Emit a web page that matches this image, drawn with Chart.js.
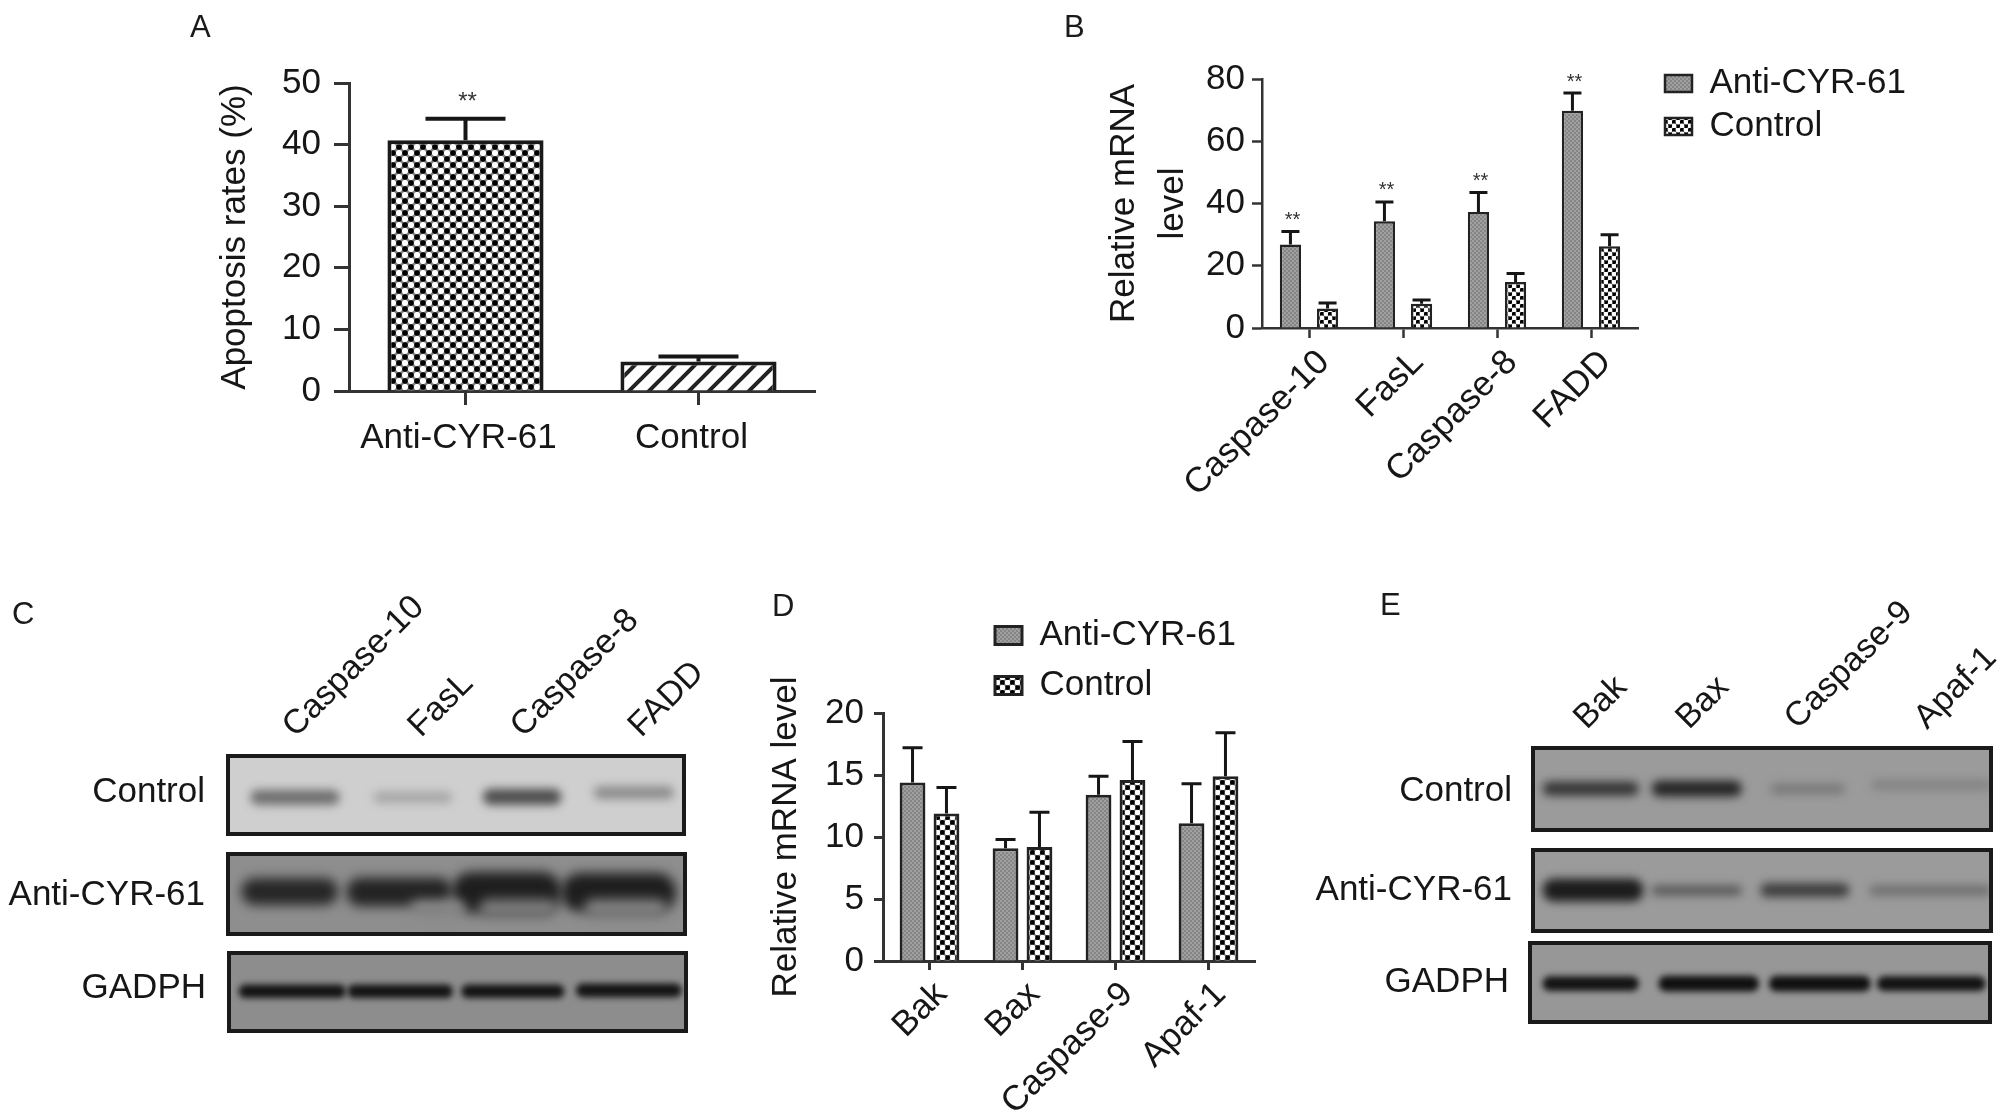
<!DOCTYPE html>
<html>
<head>
<meta charset="utf-8">
<title>Panels A-E</title>
<script src="https://cdn.jsdelivr.net/npm/chart.js@4"></script>
<style>
html, body { margin: 0; padding: 0; background: #fff; }
#page { position: relative; width: 2008px; height: 1120px; overflow: hidden; filter: blur(0.6px); }
canvas { position: absolute; left: 0; top: 0; }
.tag { position: absolute; font: 31px "Liberation Sans", Arial, sans-serif; color: #1a1a1a; }
</style>
</head>
<body>
<div id="page">
    <div class="tag" style="left:190px;top:9px">A</div>
    <div class="tag" style="left:1064px;top:9px">B</div>
    <div class="tag" style="left:12px;top:596px">C</div>
    <div class="tag" style="left:772px;top:588px">D</div>
    <div class="tag" style="left:1380px;top:587px">E</div>
</div>
<script>
// panel A
var aLabels = ["Anti-CYR-61", "Control"];
var aValues = [40.7, 4.8];
var aTops = [44.2, 5.6];
var aStars = ["**", ""];

// panel B
var bLabels = ["Caspase-10", "FasL", "Caspase-8", "FADD"];
var bAnti = [26.8, 34.3, 37.3, 69.8];
var bAntiTops = [31, 40.5, 43.5, 75.5];
var bControl = [6.3, 7.8, 14.8, 26.3];
var bControlTops = [8, 9, 17.5, 30];
var bStars = ["**", "**", "**", "**"];

// panel D
var dLabels = ["Bak", "Bax", "Caspase-9", "Apaf-1"];
var dAnti = [14.4, 9.1, 13.4, 11.1];
var dAntiTops = [17.2, 9.8, 14.9, 14.3];
var dControl = [11.9, 9.2, 14.6, 14.9];
var dControlTops = [14, 12, 17.7, 18.4];

// blots, band extents read as % of the strip width, height as % of the strip
var cLanes = ["Caspase-10", "FasL", "Caspase-8", "FADD"];
var cLaneTicks = [19.7, 47.2, 69.7, 95.5];
var eLanes = ["Bak", "Bax", "Caspase-9", "Apaf-1"];
var eLaneTicks = [16.6, 38.9, 62.6, 90.9];

var c1From = [5, 32, 56, 80.3];
var c1To = [24.4, 49, 73, 97.7];
var c1Level = [44, 44, 45, 56];
var c1Grey = ["#6e6e6e", "#a4a4a4", "#4c4c4c", "#8c8c8c"];

var c2From = [40, 55, 78, 3, 26, 49, 73];
var c2To = [52, 72, 96, 24, 49, 73, 98];
var c2Level = [14, 14, 14, 56, 55, 54, 54];
var c2Grey = ["#868686", "#7a7a7a", "#808080", "#262626", "#232323", "#1e1e1e", "#1e1e1e"];

var c3From = [2.2, 26, 50.9, 76];
var c3To = [25.5, 48.9, 73.3, 99];
var c3Level = [52, 52, 52, 54];
var c3Grey = ["#141414", "#141414", "#141414", "#141414"];

var e1From = [2.2, 26, 52, 74];
var e1To = [23, 45.5, 68, 100];
var e1Level = [51, 51, 50, 60];
var e1Grey = ["#333333", "#242424", "#767676", "#828282"];

var e2From = [2.2, 26, 49.7, 73.5];
var e2To = [24, 45.5, 69, 100];
var e2Level = [51, 50, 51, 50];
var e2Grey = ["#1c1c1c", "#555555", "#3c3c3c", "#6c6c6c"];

var e3From = [2.8, 28, 52, 75.5];
var e3To = [23.6, 49.7, 74, 99];
var e3Level = [47, 47, 47, 47];
var e3Grey = ["#141414", "#101010", "#101010", "#121212"];

var INK = "#161616";
var FONT = { family: '"Liberation Sans", Arial, sans-serif', size: 35 };

function tile(size, paint) {
    var c = document.createElement("canvas");
    c.width = c.height = size;
    var g = c.getContext("2d");
    paint(g, size);
    return g.createPattern(c, "repeat");
}

function dots(period, radius) {
    return tile(period, function (g, s) {
        g.fillStyle = "#7a7a7a";
        g.fillRect(0, 0, s, s);
        var q = s / 4;
        g.fillStyle = "#000";
        g.beginPath(); g.arc(q, q, radius, 0, 7); g.arc(3 * q, 3 * q, radius, 0, 7); g.fill();
        g.fillStyle = "#fff";
        g.beginPath(); g.arc(3 * q, q, radius + 0.3, 0, 7); g.arc(q, 3 * q, radius + 0.3, 0, 7); g.fill();
    });
}

var dotsA = dots(12, 2.8);
var dotsB = dots(8, 2.1);
var dotsD = dots(10, 2.5);

var hatch = tile(20, function (g, s) {
    g.fillStyle = "#fff";
    g.fillRect(0, 0, s, s);
    g.strokeStyle = "#222";
    g.lineWidth = 4;
    [[-s, s, s, -s], [0, s, s, 0], [0, 2 * s, 2 * s, 0]].forEach(function (p) {
        g.beginPath(); g.moveTo(p[0], p[1]); g.lineTo(p[2], p[3]); g.stroke();
    });
});

var fineGrey = tile(4, function (g, s) {
    g.fillStyle = "#858585";
    g.fillRect(0, 0, s, s);
    g.fillStyle = "#a0a0a0";
    g.fillRect(0, 0, 2, 2);
    g.fillRect(2, 2, 2, 2);
});

// error bars and the ** marks, placed through the bar elements and the y scale
var errorBars = {
    id: "errorBars",
    afterDatasetsDraw: function (chart) {
        var ctx = chart.ctx;
        var y = chart.scales.y;
        chart.data.datasets.forEach(function (ds, i) {
            var meta = chart.getDatasetMeta(i);
            ds.tops.forEach(function (top, k) {
                var bar = meta.data[k];
                var py = y.getPixelForValue(top);
                ctx.save();
                ctx.strokeStyle = INK;
                ctx.lineWidth = ds.errWidth;
                ctx.beginPath();
                ctx.moveTo(bar.x, bar.y);
                ctx.lineTo(bar.x, py);
                ctx.moveTo(bar.x - ds.cap, py);
                ctx.lineTo(bar.x + ds.cap, py);
                ctx.stroke();
                if (ds.stars && ds.stars[k]) {
                    ctx.fillStyle = "#333";
                    ctx.font = ds.starSize + 'px "Liberation Sans", Arial, sans-serif';
                    ctx.textAlign = "center";
                    ctx.textBaseline = "middle";
                    ctx.fillText(ds.stars[k], bar.x + 2, py - ds.starGap);
                }
                ctx.restore();
            });
        });
    }
};

// moves the legend off the plot area, to the page position the panel wants
var legendSpot = {
    id: "legendSpot",
    afterLayout: function (chart) {
        var spot = chart.options.plugins.legendSpot;
        if (!spot || spot.left === undefined) return;
        var lg = chart.legend;
        var w = lg.width, h = lg.height;
        lg.left = spot.left;
        lg.top = spot.top;
        lg.right = spot.left + w;
        lg.bottom = spot.top + h;
    }
};

function addCanvas() {
    var c = document.createElement("canvas");
    c.width = 2008;
    c.height = 1120;
    document.getElementById("page").appendChild(c);
    return c.getContext("2d");
}

function fixed(prop, size) {
    return function (scale) {
        scale[prop] = size;
        // rotated labels may hang past the plot, do not let that shrink it
        if (prop === "height") { scale.paddingLeft = 0; scale.paddingRight = 0; }
    };
}

function barPanel(o) {
    new Chart(addCanvas(), {
        type: "bar",
        data: { labels: o.labels, datasets: o.datasets },
        plugins: [errorBars, legendSpot],
        options: {
            responsive: false,
            animation: false,
            categoryPercentage: o.catPct,
            barPercentage: o.barPct,
            layout: {
                padding: {
                    left: o.box[0] - o.yWidth,
                    top: o.box[1],
                    right: 2008 - o.box[2],
                    bottom: 1120 - o.box[3] - o.xHeight
                }
            },
            plugins: {
                tooltip: { enabled: false },
                legend: o.legend ? {
                    display: true,
                    position: "chartArea",
                    align: "start",
                    labels: { font: FONT, color: INK, boxWidth: o.legend.boxW, boxHeight: o.legend.boxH, padding: o.legend.pad }
                } : { display: false },
                legendSpot: o.legend ? { left: o.legend.left, top: o.legend.top } : {}
            },
            scales: {
                x: {
                    afterFit: fixed("height", o.xHeight),
                    grid: { display: true, offset: false, drawOnChartArea: false, color: "#333", tickLength: o.xTick, tickWidth: o.axisWidth },
                    border: { color: "#333", width: o.axisWidth },
                    ticks: {
                        font: FONT, color: INK, padding: o.xPad,
                        minRotation: o.rot, maxRotation: o.rot, autoSkip: false,
                        labelOffset: o.labelShift
                    }
                },
                y: {
                    min: 0,
                    max: o.max,
                    afterFit: fixed("width", o.yWidth),
                    grid: { display: true, drawOnChartArea: false, color: "#333", tickLength: o.yTick, tickWidth: o.axisWidth },
                    border: { color: "#333", width: o.axisWidth },
                    ticks: { font: FONT, color: INK, stepSize: o.step, padding: o.yPad },
                    title: {
                        display: true,
                        text: o.title,
                        color: INK,
                        font: { family: FONT.family, size: 35, lineHeight: o.titleLine },
                        padding: 0
                    }
                }
            }
        }
    });
}

// one western blot strip: grey ground, soft bands, dark frame
function blot(o) {
    var sets = o.from.map(function (f, i) {
        return {
            data: [{ x: [f, o.to[i]], y: o.level[i] }],
            backgroundColor: o.grey[i],
            barThickness: o.thick[i],
            grouped: false,
            borderRadius: o.thick[i] / 2,
            borderSkipped: false
        };
    });
    var top = o.lanes ? o.xHeight : 0;
    new Chart(addCanvas(), {
        type: "bar",
        data: { datasets: sets },
        plugins: [{
            id: "blotFrame",
            beforeDatasetsDraw: function (chart) {
                var a = chart.chartArea;
                chart.ctx.fillStyle = o.ground;
                chart.ctx.fillRect(a.left, a.top, a.width, a.height);
            },
            beforeDatasetDraw: function (chart) {
                chart.ctx.filter = "blur(" + o.blur + "px)";
            },
            afterDatasetDraw: function (chart) {
                chart.ctx.filter = "none";
            },
            afterDatasetsDraw: function (chart) {
                var a = chart.chartArea;
                chart.ctx.strokeStyle = "#1a1a1a";
                chart.ctx.lineWidth = 4;
                chart.ctx.strokeRect(a.left, a.top, a.width, a.height);
            }
        }],
        options: {
            indexAxis: "y",
            responsive: false,
            animation: false,
            layout: {
                padding: {
                    left: o.box[0] - o.yWidth,
                    top: o.box[1] - top,
                    right: 2008 - o.box[2],
                    bottom: 1120 - o.box[3]
                }
            },
            plugins: { legend: { display: false }, tooltip: { enabled: false } },
            scales: {
                x: {
                    type: "linear",
                    position: "top",
                    min: 0,
                    max: 100,
                    display: !!o.lanes,
                    afterFit: fixed("height", o.xHeight || 0),
                    afterBuildTicks: function (scale) {
                        scale.ticks = (o.laneTicks || []).map(function (v) { return { value: v }; });
                    },
                    grid: { display: false },
                    border: { display: false },
                    ticks: {
                        font: { family: FONT.family, size: 34 }, color: INK, padding: 2, autoSkip: false,
                        minRotation: 45, maxRotation: 45,
                        callback: function (v, i) { return o.lanes ? o.lanes[i] : ""; }
                    }
                },
                y: {
                    type: "linear",
                    min: 0,
                    max: 100,
                    afterFit: fixed("width", o.yWidth),
                    afterBuildTicks: function (scale) { scale.ticks = [{ value: o.rowAt }]; },
                    grid: { display: false },
                    border: { display: false },
                    ticks: {
                        font: FONT, color: INK, padding: o.rowPad,
                        callback: function () { return o.row; }
                    }
                }
            }
        }
    });
}

barPanel({
    labels: aLabels,
    datasets: [{
        data: aValues,
        backgroundColor: [dotsA, hatch],
        borderColor: "#1a1a1a",
        borderWidth: 4,
        tops: aTops, stars: aStars, cap: 40, errWidth: 4, starSize: 24, starGap: 16
    }],
    box: [349, 83, 815, 391],
    yWidth: 135, xHeight: 80,
    catPct: 1, barPct: 0.67,
    max: 50, step: 10, yTick: 15, xTick: 14, axisWidth: 3,
    xPad: 12, yPad: 13, rot: 0, labelShift: -7,
    title: "Apoptosis rates (%)", titleLine: 1.2
});

barPanel({
    labels: bLabels,
    datasets: [
        { label: "Anti-CYR-61", data: bAnti, backgroundColor: fineGrey, borderColor: "#222", borderWidth: 2.5,
          tops: bAntiTops, stars: bStars, cap: 9, errWidth: 3, starSize: 20, starGap: 11 },
        { label: "Control", data: bControl, backgroundColor: dotsB, borderColor: "#222", borderWidth: 2.5,
          tops: bControlTops, cap: 9, errWidth: 3 }
    ],
    box: [1262, 79, 1638, 328],
    yWidth: 162, xHeight: 170,
    catPct: 0.79, barPct: 0.57,
    max: 80, step: 20, yTick: 10, xTick: 10, axisWidth: 2.5,
    xPad: 4, yPad: 7, rot: 45, labelShift: 15,
    title: ["Relative mRNA", "level"], titleLine: 1.4,
    legend: { left: 1657, top: 58, boxW: 27, boxH: 17, pad: 8 }
});

barPanel({
    labels: dLabels,
    datasets: [
        { label: "Anti-CYR-61", data: dAnti, backgroundColor: fineGrey, borderColor: "#222", borderWidth: 3,
          tops: dAntiTops, cap: 10, errWidth: 3 },
        { label: "Control", data: dControl, backgroundColor: dotsD, borderColor: "#222", borderWidth: 3,
          tops: dControlTops, cap: 10, errWidth: 3 }
    ],
    box: [883, 713, 1255, 961],
    yWidth: 118, xHeight: 150,
    catPct: 0.73, barPct: 0.76,
    max: 20, step: 5, yTick: 9, xTick: 9, axisWidth: 3,
    xPad: 4, yPad: 10, rot: 45, labelShift: 12,
    title: "Relative mRNA level", titleLine: 1.2,
    legend: { left: 980, top: 603, boxW: 27, boxH: 18, pad: 15 }
});

blot({ box: [228, 756, 684, 834], yWidth: 228, row: "Control", rowAt: 58, rowPad: 15, ground: "#cfcfcf", blur: 5,
       from: c1From, to: c1To, level: c1Level, grey: c1Grey, thick: [14, 10, 15, 12],
       lanes: cLanes, laneTicks: cLaneTicks, xHeight: 160 });
blot({ box: [228, 854, 685, 934], yWidth: 228, row: "Anti-CYR-61", rowAt: 47, rowPad: 15, ground: "#8e8e8e", blur: 6,
       from: c2From, to: c2To, level: c2Level, grey: c2Grey, thick: [16, 18, 18, 26, 28, 40, 38] });
blot({ box: [229, 953, 686, 1031], yWidth: 229, row: "GADPH", rowAt: 59, rowPad: 15, ground: "#8d8d8d", blur: 3,
       from: c3From, to: c3To, level: c3Level, grey: c3Grey, thick: [13, 13, 13, 13] });

blot({ box: [1533, 748, 1991, 830], yWidth: 240, row: "Control", rowAt: 45, rowPad: 13, ground: "#9b9b9b", blur: 5,
       from: e1From, to: e1To, level: e1Level, grey: e1Grey, thick: [13, 15, 9, 9],
       lanes: eLanes, laneTicks: eLaneTicks, xHeight: 150 });
blot({ box: [1533, 850, 1991, 931], yWidth: 240, row: "Anti-CYR-61", rowAt: 50, rowPad: 13, ground: "#9b9b9b", blur: 5,
       from: e2From, to: e2To, level: e2Level, grey: e2Grey, thick: [22, 9, 13, 9] });
blot({ box: [1530, 943, 1990, 1022], yWidth: 237, row: "GADPH", rowAt: 50, rowPad: 13, ground: "#979797", blur: 3,
       from: e3From, to: e3To, level: e3Level, grey: e3Grey, thick: [14, 15, 15, 14] });
</script>
</body>
</html>
